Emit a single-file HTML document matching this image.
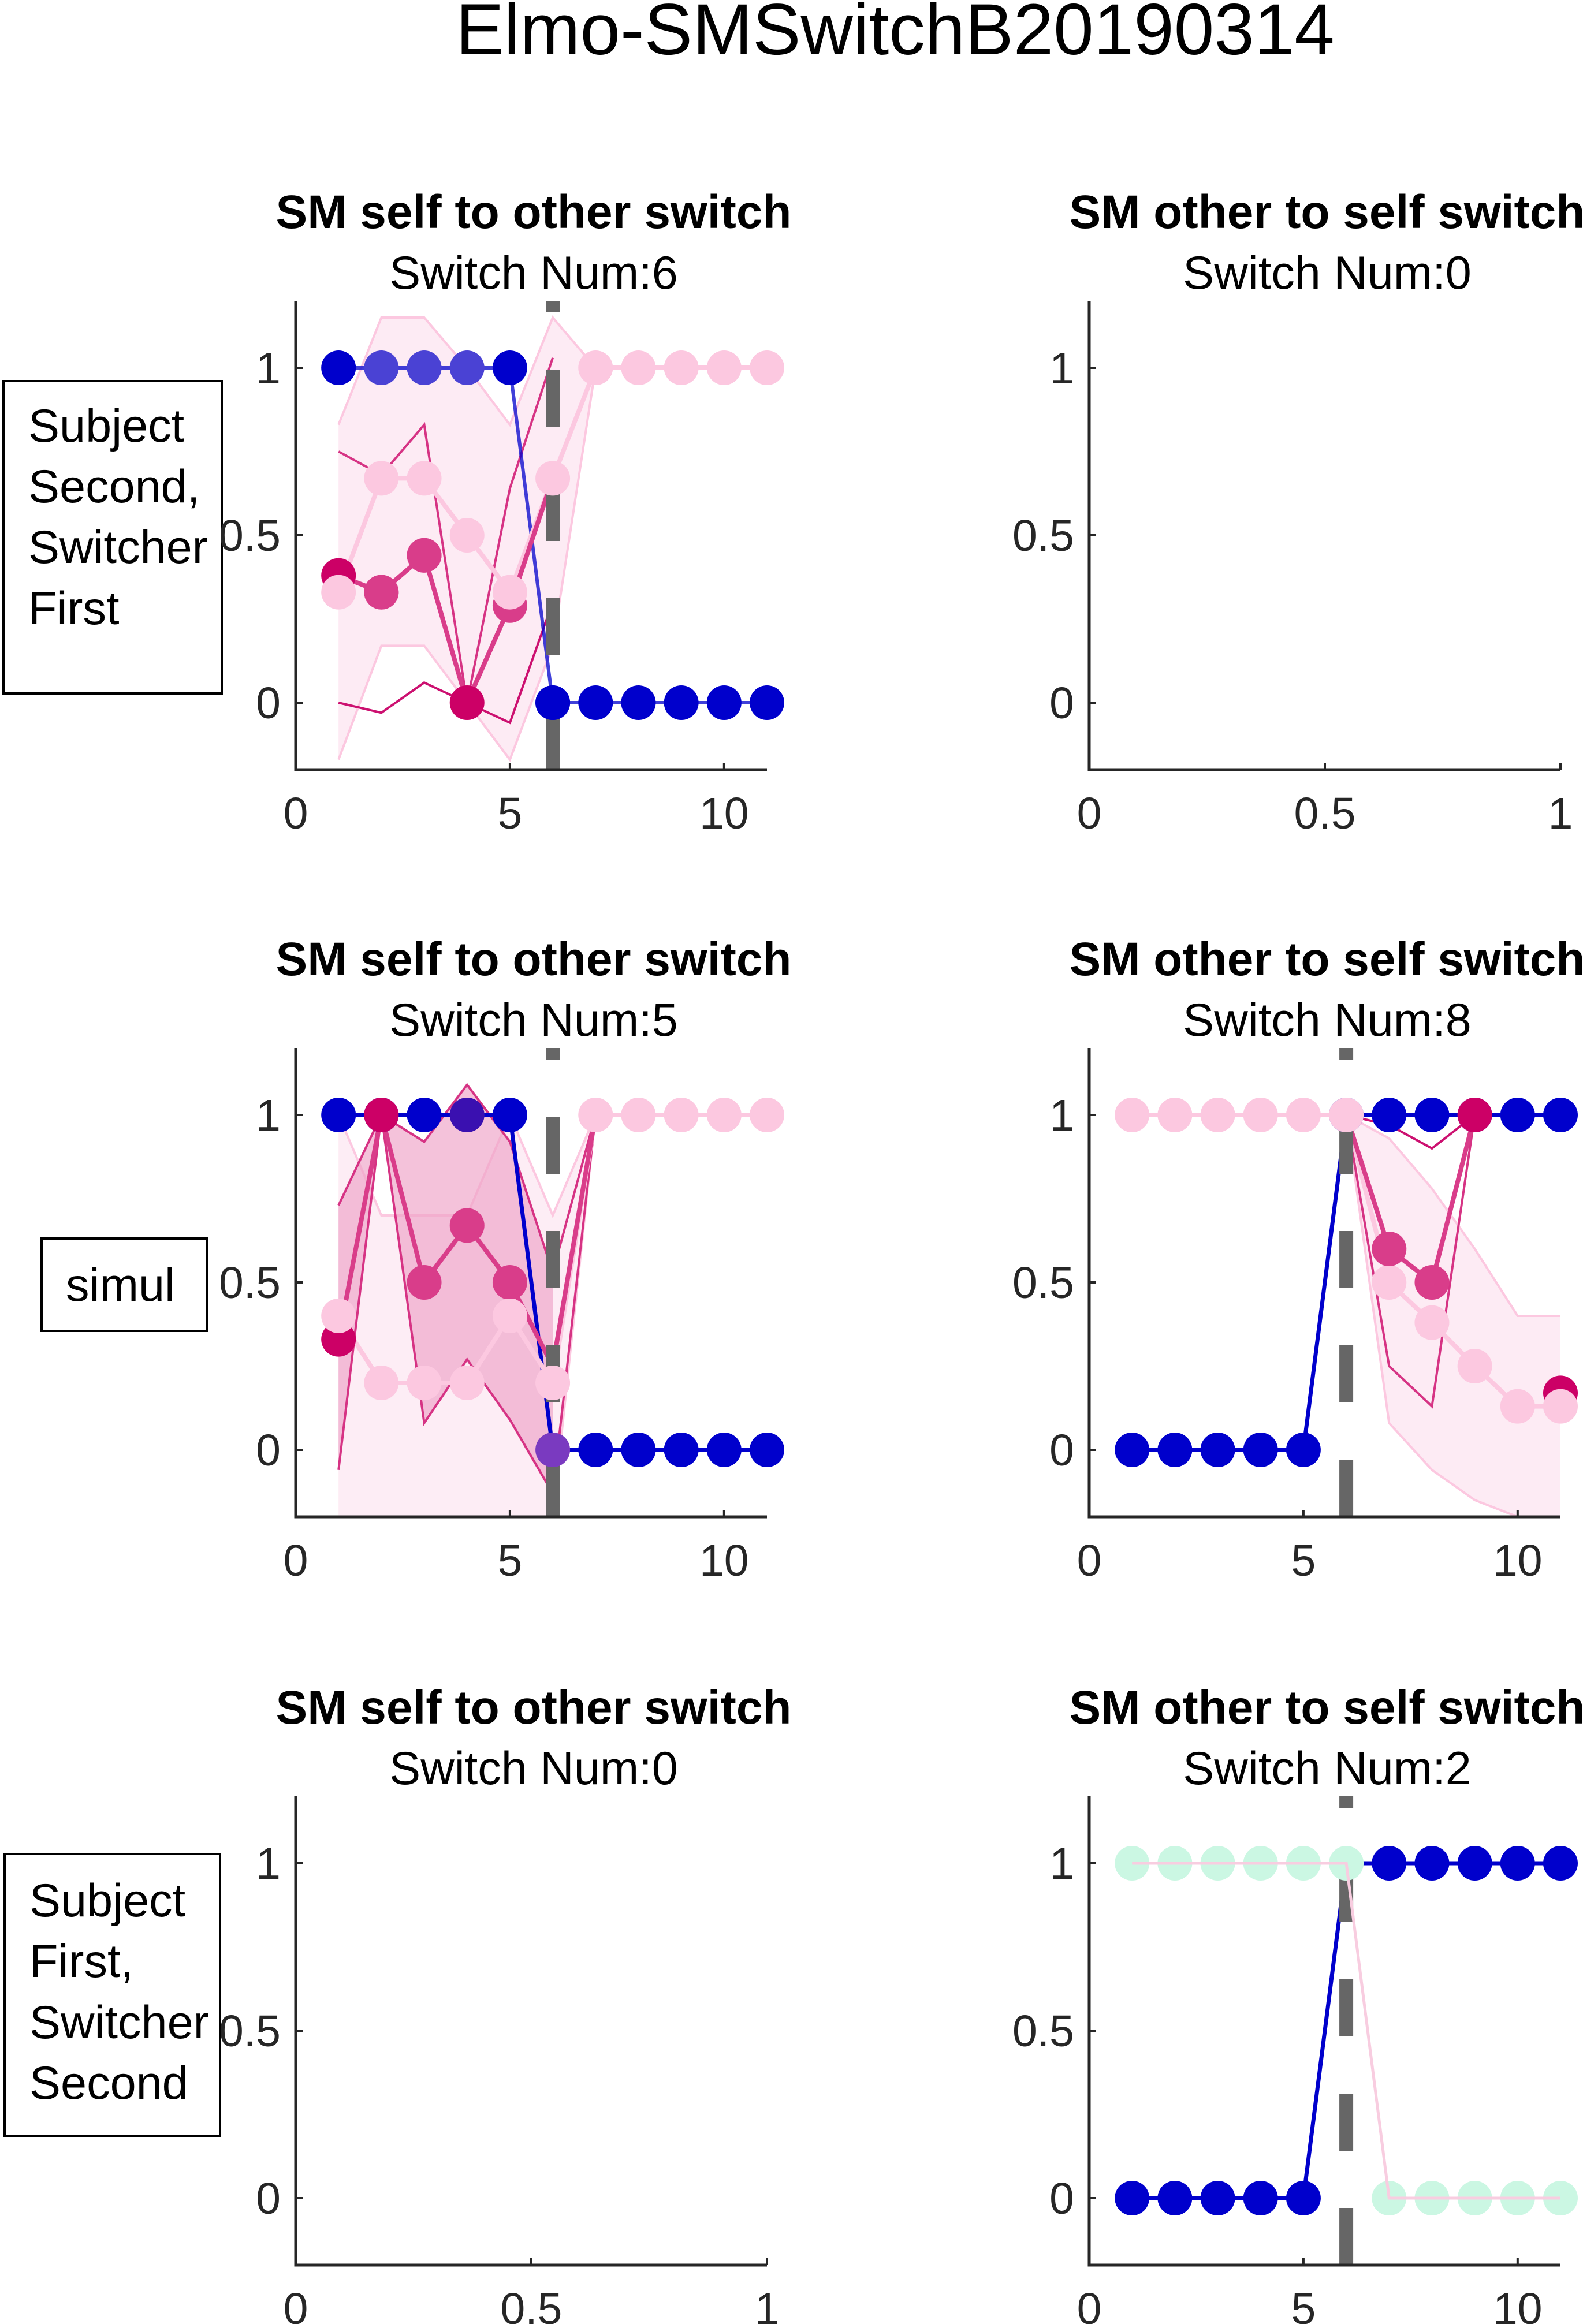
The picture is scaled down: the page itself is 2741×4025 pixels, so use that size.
<!DOCTYPE html>
<html><head><meta charset="utf-8">
<style>
html,body{margin:0;padding:0;background:#fff;}
svg{display:block;font-family:"Liberation Sans",Arial,sans-serif;}
</style></head>
<body>
<svg id="fig" width="2741" height="4025" viewBox="0 0 2741 4025" xmlns="http://www.w3.org/2000/svg">
<rect width="2741" height="4025" fill="#fff"/>
<text x="1550" y="94" font-size="125" text-anchor="middle" fill="#000">Elmo-SMSwitchB20190314</text>

<g>
<rect x="6" y="660" width="378" height="541" fill="#fff" stroke="#000" stroke-width="4"/>
<text x="49" y="765" font-size="81">Subject</text>
<text x="49" y="870" font-size="81">Second,</text>
<text x="49" y="975" font-size="81">Switcher</text>
<text x="49" y="1081" font-size="81">First</text>
</g>
<g>
<rect x="72" y="2145" width="286" height="160" fill="#fff" stroke="#000" stroke-width="4"/>
<text x="114" y="2253" font-size="81">simul</text>
</g>
<g>
<rect x="8" y="3211" width="373" height="488" fill="#fff" stroke="#000" stroke-width="4"/>
<text x="51" y="3319" font-size="81">Subject</text>
<text x="51" y="3424" font-size="81">First,</text>
<text x="51" y="3530" font-size="81">Switcher</text>
<text x="51" y="3635" font-size="81">Second</text>
</g>
<g id="panels"></g>
</svg>
<script>
// ---- data arrays ----
const xCats = [1,2,3,4,5,6,7,8,9,10,11];
const yTicks = [0,0.5,1];
const yTickLabels = ["0","0.5","1"];
const xTicksNum = [0,5,10];
const xTickLabelsNum = ["0","5","10"];
const xTicksEmpty = [0,0.5,1];
const xTickLabelsEmpty = ["0","0.5","1"];

// Panel 1: SM self to other, Switch Num 6
const p1Blue = [1,1,1,1,1,0,0,0,0,0,0];
const p1Light = [0.33,0.67,0.67,0.5,0.33,0.67,1,1,1,1,1];
const p1LightUp = [0.83,1.15,1.15,1.0,0.83,1.15,1];
const p1LightLo = [-0.17,0.17,0.17,0.0,-0.17,0.17,1];
const p1Mag = [0.38,0.33,0.44,0,0.29,0.67];
const p1MagUp = [0.75,0.68,0.83,0.0,0.64,1.03];
const p1MagLo = [0,-0.03,0.06,0,-0.06,0.3];

// Panel 3: SM self to other, Switch Num 5
const p3Blue = [1,1,1,1,1,0,0,0,0,0,0];
const p3Light = [0.4,0.2,0.2,0.2,0.4,0.2,1,1,1,1,1];
const p3LightUp = [1,0.7,0.7,0.7,1,0.7,1];
const p3LightLo = [-0.2,-0.2,-0.2,-0.2,-0.2,-0.2,1];
const p3Mag = [0.33,1,0.5,0.67,0.5,0.25,1];
const p3MagUp = [0.73,1,0.92,1.09,0.92,0.53,1];
const p3MagLo = [-0.06,1,0.08,0.27,0.09,-0.13,1];

// Panel 4: SM other to self, Switch Num 8
const p4Blue = [0,0,0,0,0,1,1,1,1,1,1];
const p4Light = [1,1,1,1,1,1,0.5,0.38,0.25,0.13,0.13];
const p4LightUp = [null,null,null,null,null,1,0.93,0.78,0.6,0.4,0.4];
const p4LightLo = [null,null,null,null,null,1,0.08,-0.06,-0.15,-0.2,-0.2];
const p4Mag = [null,null,null,null,null,1,0.6,0.5,1,null,0.17];
const p4MagUp = [null,null,null,null,null,1,0.97,0.9,1,null,null];
const p4MagLo = [null,null,null,null,null,1,0.25,0.13,1,null,null];

// Panel 6: SM other to self, Switch Num 2
const p6Blue = [0,0,0,0,0,1,1,1,1,1,1];
const p6Mint = [1,1,1,1,1,1,0,0,0,0,0];

const NS = "http://www.w3.org/2000/svg";
const root = document.getElementById("panels");
function mk(tag, attrs, parent){
  const e = document.createElementNS(NS, tag);
  for (const k in attrs) e.setAttribute(k, attrs[k]);
  (parent||root).appendChild(e);
  return e;
}
const W = 816, H = 812, R = 30;
function makeAxes(left, top, xmax, xt, xtl, title, sub, name){
  const g = mk("g", {});
  
  
  const sx = v => left + v / xmax * W;
  const sy = v => top + (1.2 - v) / 1.4 * H;
  const cx = left + W/2 + 4;
  const t1 = mk("text", {x: cx, y: top - 126, "font-size": 82, "font-weight": "bold", "text-anchor": "middle"}, g);
  t1.textContent = title;
  
  
  const t2 = mk("text", {x: cx, y: top - 21, "font-size": 81, "text-anchor": "middle"}, g);
  t2.textContent = sub;
  
  
  const plot = mk("g", {}, g);
  const ax = mk("g", {}, g);
  mk("path", {d:`M${left} ${top} V${top+H} H${left+W}`, fill:"none", stroke:"#262626", "stroke-width":5}, ax);
  yTicks.forEach((v,i)=>{
    mk("line",{x1:left,x2:left+12,y1:sy(v),y2:sy(v),stroke:"#262626","stroke-width":4},ax);
    const t = mk("text",{x:left-26,y:sy(v)+27,"font-size":77,"text-anchor":"end",fill:"#262626"},ax);
    t.textContent = yTickLabels[i];
    
    
  });
  xt.forEach((v,i)=>{
    mk("line",{x1:sx(v),x2:sx(v),y1:top+H,y2:top+H-12,stroke:"#262626","stroke-width":4},ax);
    const t = mk("text",{x:sx(v),y:top+H+102,"font-size":77,"text-anchor":"middle",fill:"#262626"},ax);
    t.textContent = xtl[i];
    
    
  });
  return {plot, sx, sy, top};
}
function pts(arr, P){ const o=[]; arr.forEach((v,i)=>{ if(v!==null && v!==undefined) o.push([P.sx(xCats[i]),P.sy(v)]); }); return o; }
function band(P, up, lo, fill, stroke, op){
  const u = pts(up,P), l = pts(lo,P);
  const b = mk("polygon",{points:u.concat(l.slice().reverse()).map(p=>p.join(",")).join(" "),fill:fill,"fill-opacity":op,stroke:"none"},P.plot);
  
  
  if (stroke){
    mk("polyline",{points:u.map(p=>p.join(",")).join(" "),fill:"none",stroke:stroke,"stroke-width":4},P.plot);
    mk("polyline",{points:l.map(p=>p.join(",")).join(" "),fill:"none",stroke:stroke,"stroke-width":4},P.plot);
  }
}
function thin(P, arr, color){
  const l = mk("polyline",{points:pts(arr,P).map(p=>p.join(",")).join(" "),fill:"none",stroke:color,"stroke-width":4},P.plot);
  
  
}
function line(P, arr, color, w, op){
  const l = mk("polyline",{points:pts(arr,P).map(p=>p.join(",")).join(" "),fill:"none",stroke:color,"stroke-width":w||8,"stroke-opacity":op||1},P.plot);
  
  
}
function markers(P, arr, colors, only){
  arr.forEach((v,i)=>{
    if (v===null || v===undefined) return;
    if (only && only.indexOf(i)<0) return;
    const col = Array.isArray(colors)?colors[i]:colors;
    if (!col || col==="none") return;
    const c = mk("circle",{cx:P.sx(xCats[i]),cy:P.sy(v),r:R,fill:col},P.plot);
    
    
  });
}
function dash(P, xv){
  const d = mk("line",{x1:P.sx(xv),x2:P.sx(xv),y1:P.top+H,y2:P.top,stroke:"#666","stroke-width":24,"stroke-dasharray":"99 99"},P.plot);
  
  
}
const BLUE="#0000cc", LIGHT="#fcc8e0", MAG="#d93d8a", DMAG="#cc0066", BANDF="#fbd3e6", MINT="#cbf7e3";

// Panel 1
let P = makeAxes(512, 521, 11, xTicksNum, xTickLabelsNum, "SM self to other switch", "Switch Num:6", "panel-self-to-other-row1");
band(P, p1LightUp, p1LightLo, BANDF, LIGHT, 0.45);
thin(P, p1MagUp, "#d63384"); thin(P, p1MagLo, "#cc1070");
line(P, p1Blue, BLUE, 6, 0.75);
line(P, p1Light, LIGHT, 8);
line(P, p1Mag, MAG, 8);
dash(P, 6);
markers(P, p1Mag, [DMAG,MAG,MAG,DMAG,MAG], [0,1,2,3,4]);
markers(P, p1Blue, [BLUE,"#4a42d4","#4a42d4","#4a42d4",BLUE,BLUE,BLUE,BLUE,BLUE,BLUE,BLUE]);
markers(P, p1Light, LIGHT);
markers(P, p1Mag, MAG, [1,2]);
markers(P, p1Blue, BLUE, [5]);

// Panel 2 (empty)
makeAxes(1886, 521, 1, xTicksEmpty, xTickLabelsEmpty, "SM other to self switch", "Switch Num:0", "panel-other-to-self-row1");

// Panel 3
P = makeAxes(512, 1815, 11, xTicksNum, xTickLabelsNum, "SM self to other switch", "Switch Num:5", "panel-self-to-other-row2");
band(P, p3LightUp, p3LightLo, BANDF, LIGHT, 0.4);
band(P, p3MagUp.slice(0,6), p3MagLo.slice(0,6), "#eea2c6", null, 0.65);
thin(P, p3MagUp, "#d63384"); thin(P, p3MagLo, "#d63384");
line(P, p3Blue, BLUE, 7);
line(P, p3Light, LIGHT, 8);
line(P, p3Mag, MAG, 8);
dash(P, 6);
markers(P, p3Blue, [BLUE,BLUE,BLUE,"#3a10b0",BLUE], [0,1,2,3,4]);
markers(P, p3Mag, [DMAG,DMAG,MAG,MAG,MAG], [0,1,2,3,4]);
markers(P, p3Light, LIGHT);
markers(P, p3Blue, [null,null,null,null,null,"#7a3ac0",BLUE,BLUE,BLUE,BLUE,BLUE]);

// Panel 4
P = makeAxes(1886, 1815, 11, xTicksNum, xTickLabelsNum, "SM other to self switch", "Switch Num:8", "panel-other-to-self-row2");
band(P, p4LightUp, p4LightLo, BANDF, LIGHT, 0.45);
thin(P, p4MagUp, "#cc1070"); thin(P, p4MagLo, "#d63384");
line(P, p4Blue, BLUE, 7);
line(P, p4Light, LIGHT, 8);
line(P, p4Mag.slice(0,9), MAG, 8);
dash(P, 6);
markers(P, p4Blue, BLUE);
markers(P, p4Mag, DMAG, [10]);
markers(P, p4Light, LIGHT);
markers(P, p4Mag, MAG, [6,7]);
markers(P, p4Mag, DMAG, [8]);

// Panel 5 (empty)
makeAxes(512, 3111, 1, xTicksEmpty, xTickLabelsEmpty, "SM self to other switch", "Switch Num:0", "panel-self-to-other-row3");

// Panel 6
P = makeAxes(1886, 3111, 11, xTicksNum, xTickLabelsNum, "SM other to self switch", "Switch Num:2", "panel-other-to-self-row3");
line(P, p6Blue, BLUE, 7);
dash(P, 6);
markers(P, p6Mint, MINT);
line(P, p6Mint, "#f8cde0", 5);
markers(P, p6Blue, BLUE, [0,1,2,3,4,6,7,8,9,10]);
</script>
</body></html>
